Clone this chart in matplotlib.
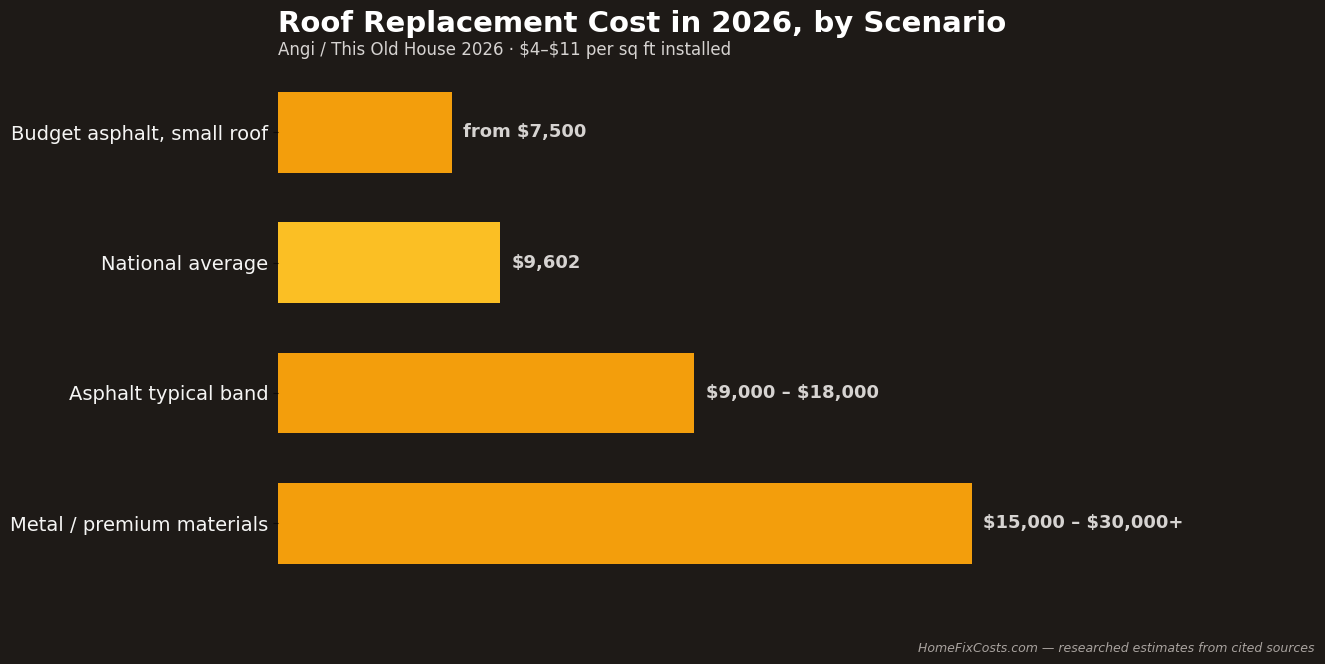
import matplotlib
matplotlib.use("Agg")
import matplotlib.pyplot as plt

plt.rcParams["text.parse_math"] = False

categories = ["Budget asphalt, small roof", "National average",
              "Asphalt typical band", "Metal / premium materials"]
values = [7500, 9602, 18000, 30000]
value_labels = ["from $7,500", "$9,602", "$9,000 – $18,000", "$15,000 – $30,000+"]
bar_colors = ["#f39e0c", "#fbbf24", "#f39e0c", "#f39e0c"]

title = "Roof Replacement Cost in 2026, by Scenario"
subtitle = "Angi / This Old House 2026 · $4–$11 per sq ft installed"
footer = "HomeFixCosts.com — researched estimates from cited sources"

BG = "#1e1a17"
fig = plt.figure(figsize=(13.25, 6.64), dpi=100, facecolor=BG)
ax = fig.add_axes([278/1325, 1-587.5/664, 1041/1325, (587.5-68)/664])
ax.set_facecolor(BG)

y = list(range(len(categories)))
ax.barh(y, values, height=0.62, color=bar_colors)
ax.set_yticks(y)
ax.set_yticklabels(categories, fontsize=14)
ax.tick_params(axis="y", colors="#0c0a09", labelcolor="#f5f5f4")
ax.set_ylim(3.491, -0.491)
ax.set_xlim(0, max(values) * 1.5)
ax.xaxis.set_visible(False)
for s in ax.spines.values():
    s.set_visible(False)

for yi, v, lab in zip(y, values, value_labels):
    ax.annotate(lab, (v, yi), xytext=(8, 0), textcoords="offset points",
                ha="left", va="center", fontsize=13, fontweight="bold",
                color="#d6d3d1")

fig.text(278/1325, 1-24/664, title, fontsize=21, fontweight="bold",
         color="#ffffff", ha="left", va="center")
fig.text(278/1325, 1-50/664, subtitle, fontsize=12, color="#d6d3d1",
         ha="left", va="center")
fig.text(1315/1325, 1-648/664, footer, fontsize=9, style="italic",
         color="#a8a29e", ha="right", va="center")

fig.savefig("out.png", dpi=100, facecolor=BG)
